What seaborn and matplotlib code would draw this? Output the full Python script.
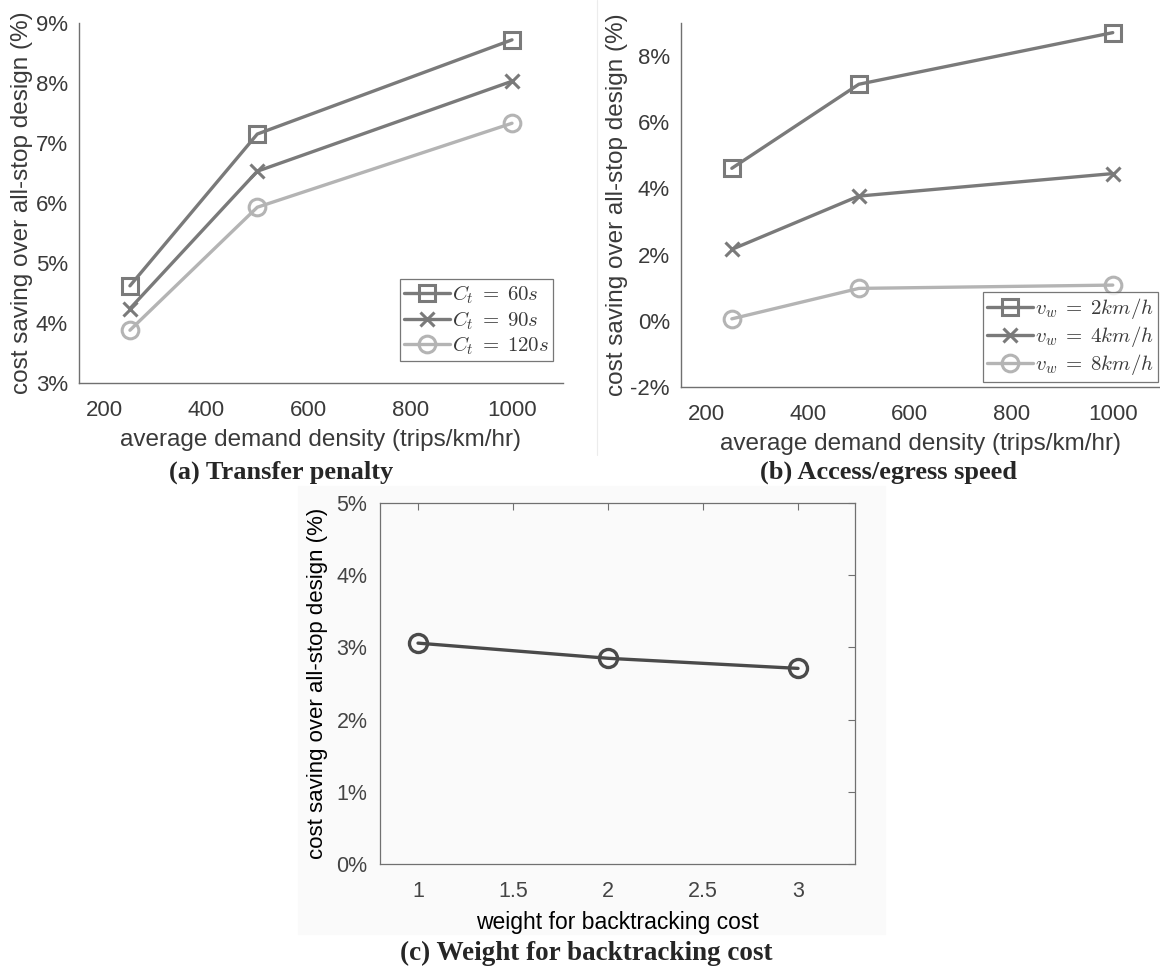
import numpy as np
import pandas as pd
import seaborn as sns
import matplotlib.pyplot as plt
from matplotlib.ticker import FuncFormatter
from matplotlib.patches import Rectangle
from matplotlib.lines import Line2D

# --- dados ---
density = [250, 500, 1000]

# (a) penalidade de transferência
ct_labels = [r'$C_t\;=\;60s$', r'$C_t\;=\;90s$', r'$C_t\;=\;120s$']
ct_60 = [4.62, 7.15, 8.72]
ct_90 = [4.24, 6.53, 8.03]
ct_120 = [3.88, 5.93, 7.33]

# (b) velocidade de acesso
vw_labels = [r'$v_w\;=\;2km/h$', r'$v_w\;=\;4km/h$', r'$v_w\;=\;8km/h$']
vw_2 = [4.61, 7.15, 8.71]
vw_4 = [2.16, 3.77, 4.45]
vw_8 = [0.06, 0.98, 1.08]

# (c) peso do backtracking
weight = [1, 2, 3]
saving_w = [3.06, 2.85, 2.71]

sns.set_theme(style='white')
plt.rcParams['font.family'] = ['Liberation Sans', 'DejaVu Sans']
plt.rcParams['mathtext.fontset'] = 'cm'

colors = ['#7a7a7a', '#7a7a7a', '#b4b4b4']
markers = ['s', 'x', 'o']
pct = FuncFormatter(lambda v, p: f'{v:g}%')
axis_col = '#707070'
text_col = '#3a3a3a'

fig = plt.figure(figsize=(11.6, 9.68), dpi=100)

# fundo cinza claro do painel (c) e linha fina entre (a) e (b)
fig.patches.append(Rectangle((298 / 1160, 1 - 934 / 968), 587 / 1160, 448 / 968,
                             transform=fig.transFigure, color='#fafafa', zorder=-10))
fig.lines.append(Line2D([597 / 1160, 597 / 1160], [1 - 455 / 968, 1.0],
                        transform=fig.transFigure, color='#ececec', lw=0.8))

ax_a = fig.add_axes([0.0681, 0.6043, 0.4172, 0.3719])
ax_b = fig.add_axes([0.5871, 0.6002, 0.4129, 0.3760])
ax_c = fig.add_axes([0.3276, 0.1074, 0.4095, 0.3729])


def draw_panel(ax, series, labels, xmax, ylim, yticks, leg_anchor):
    for vals, lab, c, m in zip(series, labels, colors, markers):
        df = pd.DataFrame({'x': density, 'y': vals})
        sns.lineplot(data=df, x='x', y='y', ax=ax, color=c, marker=m, lw=2.4,
                     ms=12 if m != 'x' else 10, mfc='none', mec=c, mew=2.2, label=lab)
    ax.set_xlim(150, xmax)
    ax.set_ylim(*ylim)
    ax.set_xticks([200, 400, 600, 800, 1000])
    ax.set_yticks(yticks)
    ax.yaxis.set_major_formatter(pct)
    for s in ['top', 'right']:
        ax.spines[s].set_visible(False)
    for s in ['left', 'bottom']:
        ax.spines[s].set_color(axis_col)
        ax.spines[s].set_linewidth(1.0)
    ax.tick_params(direction='in', length=4, width=0.8, color=axis_col,
                   labelsize=16, labelcolor=text_col)
    ax.tick_params(axis='x', pad=12)
    ax.tick_params(axis='y', pad=8)
    ax.set_xlabel('average demand density (trips/km/hr)', fontsize=17.5, color=text_col, labelpad=6)
    ax.set_ylabel('cost saving over all-stop design (%)', fontsize=17.5, color=text_col, labelpad=2)
    leg = ax.legend(loc='lower right', bbox_to_anchor=leg_anchor, fontsize=15,
                    frameon=True, fancybox=False, edgecolor='#555555',
                    handlelength=2.2, handletextpad=0.1, borderpad=0.2,
                    labelspacing=0.15, borderaxespad=0)
    leg.get_frame().set_linewidth(0.9)
    leg.get_frame().set_facecolor('white')
    for t in leg.get_texts():
        t.set_color(text_col)


draw_panel(ax_a, [ct_60, ct_90, ct_120], ct_labels, 1100, (3, 9), [3, 4, 5, 6, 7, 8, 9], (0.98, 0.06))
draw_panel(ax_b, [vw_2, vw_4, vw_8], vw_labels, 1093, (-2, 9), [-2, 0, 2, 4, 6, 8], (0.995, 0.015))

# --- painel (c) ---
df_c = pd.DataFrame({'w': weight, 's': saving_w})
sns.lineplot(data=df_c, x='w', y='s', ax=ax_c, color='#4a4a4a', marker='o', lw=2.4,
             ms=13, mfc='none', mec='#4a4a4a', mew=2.4)
ax_c.set_facecolor('#fafafa')
ax_c.set_xlim(0.8, 3.3)
ax_c.set_ylim(0, 5)
ax_c.set_xticks([1, 1.5, 2, 2.5, 3])
ax_c.set_xticklabels(['1', '1.5', '2', '2.5', '3'])
ax_c.set_yticks([0, 1, 2, 3, 4, 5])
ax_c.yaxis.set_major_formatter(pct)
for s in ax_c.spines.values():
    s.set_visible(True)
    s.set_color(axis_col)
    s.set_linewidth(0.9)
ax_c.tick_params(direction='in', length=5, width=0.8, color=axis_col, top=True, right=True,
                 labelsize=15.5, labelcolor='#444444')
ax_c.tick_params(axis='x', pad=12)
ax_c.tick_params(axis='y', pad=9)
ax_c.set_xlabel('weight for backtracking cost', fontsize=16.5, color='black', labelpad=7)
ax_c.set_ylabel('cost saving over all-stop design (%)', fontsize=16, color='black', labelpad=6)

# legendas das figuras (subtítulos)
fig.text(0.2422, 1 - 472 / 968, '(a) Transfer penalty', family='Liberation Serif', weight='bold',
         fontsize=19, ha='center', va='center')
fig.text(0.766, 1 - 472 / 968, '(b) Access/egress speed', family='Liberation Serif', weight='bold',
         fontsize=19, ha='center', va='center')
fig.text(0.505, 1 - 953 / 968, '(c) Weight for backtracking cost', family='Liberation Serif', weight='bold',
         fontsize=19.5, ha='center', va='center')

plt.savefig('out.png', dpi=100)
plt.close()
